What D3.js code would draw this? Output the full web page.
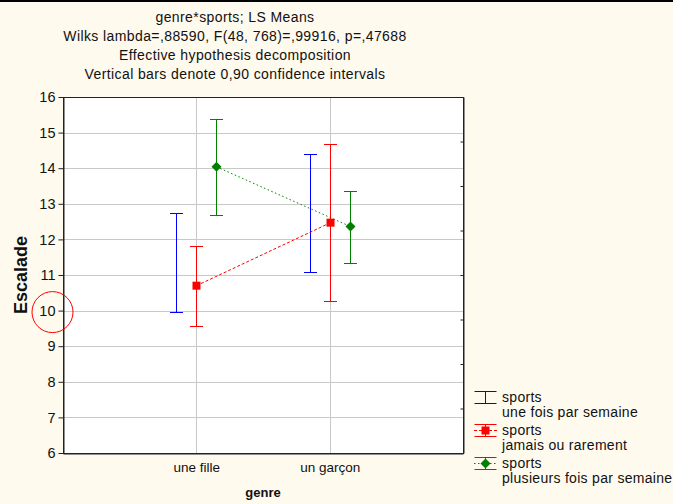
<!DOCTYPE html>
<html>
<head>
<meta charset="utf-8">
<script src="https://cdn.jsdelivr.net/npm/d3@7"></script>
<style>
  body { margin: 0; background: #fffaee; }
  svg { display: block; font-family: "Liberation Sans", Arial, sans-serif; }
  .axis path, .axis line { stroke: #222; }
  .axis text { font-size: 13.5px; fill: #111; }
</style>
</head>
<body>
<div id="chart"></div>
<script>
// data
var genres = ["une fille", "un garçon"];
var seriesNames = ["une fois par semaine", "jamais ou rarement", "plusieurs fois par semaine"];
var seriesColors = ["#0000ff", "#ff0000", "#008000"];

var blueMean = [11.35, 12.75];
var blueLow = [9.95, 11.08];
var blueHigh = [12.74, 14.41];

var redMean = [10.70, 12.47];
var redLow = [9.57, 10.27];
var redHigh = [11.81, 14.68];

var greenMean = [14.04, 12.36];
var greenLow = [12.69, 11.35];
var greenHigh = [15.39, 13.36];

var yTicks = [6, 7, 8, 9, 10, 11, 12, 13, 14, 15, 16];

var titleLines = [
  "genre*sports; LS Means",
  "Wilks lambda=,88590, F(48, 768)=,99916, p=,47688",
  "Effective hypothesis decomposition",
  "Vertical bars denote 0,90 confidence intervals"
];

var props = {
  width: 673,
  height: 504,
  left: 63,
  right: 463,
  top: 97,
  bottom: 453
};

var series = [
  {name: seriesNames[0], color: seriesColors[0], mean: blueMean, low: blueLow, high: blueHigh, marker: null, dash: null, offset: -20},
  {name: seriesNames[1], color: seriesColors[1], mean: redMean, low: redLow, high: redHigh, marker: "square", dash: "3,2", offset: 0},
  {name: seriesNames[2], color: seriesColors[2], mean: greenMean, low: greenLow, high: greenHigh, marker: "diamond", dash: "1.5,2.5", offset: 20}
];

var svg = d3.select("#chart").append("svg")
  .attr("width", props.width)
  .attr("height", props.height);

// top black band
svg.append("rect").attr("x", 0).attr("y", 0).attr("width", props.width).attr("height", 2).attr("fill", "#000");

var x = d3.scaleLinear().domain([0, 3]).range([props.left, props.right]);
var y = d3.scaleLinear().domain([6, 16]).range([props.bottom, props.top]);

// title
svg.append("g").selectAll("text")
  .data(titleLines)
  .enter().append("text")
  .attr("x", 235)
  .attr("y", function(d, i){ return 22 + i * 19; })
  .attr("text-anchor", "middle")
  .style("font-size", "14px")
  .style("letter-spacing", "0.4px")
  .style("fill", "#111")
  .text(function(d){ return d; });

// plot background
svg.append("rect")
  .attr("x", props.left).attr("y", props.top)
  .attr("width", props.right - props.left).attr("height", props.bottom - props.top)
  .attr("fill", "#fff");

// grid
svg.append("g").selectAll("line")
  .data(yTicks.slice(1, -1))
  .enter().append("line")
  .attr("x1", props.left).attr("x2", props.right)
  .attr("y1", function(d){ return Math.round(y(d)) + 0.5; })
  .attr("y2", function(d){ return Math.round(y(d)) + 0.5; })
  .attr("stroke", "#c8c8c8");

svg.append("g").selectAll("line")
  .data([1, 2])
  .enter().append("line")
  .attr("x1", function(d){ return Math.round(x(d)) + 0.5; })
  .attr("x2", function(d){ return Math.round(x(d)) + 0.5; })
  .attr("y1", props.top).attr("y2", props.bottom)
  .attr("stroke", "#c8c8c8");

// axes
svg.append("g")
  .attr("class", "axis")
  .attr("transform", "translate(" + (props.left + 0.5) + ",0)")
  .call(d3.axisLeft(y).tickValues(yTicks).tickSize(5).tickPadding(3).tickSizeOuter(0))
  .selectAll("text").style("font-size", "14.5px");

svg.append("g")
  .attr("class", "axis")
  .attr("transform", "translate(0," + (props.bottom + 0.5) + ")")
  .call(d3.axisBottom(x).tickValues([1, 2]).tickSize(0).tickPadding(9).tickSizeOuter(0)
    .tickFormat(function(d){ return genres[d - 1]; }));

// right axis with small inward ticks
var yRight = d3.scaleLinear().domain([0, 8]).range([props.bottom, props.top]);
svg.append("g")
  .attr("class", "axis")
  .attr("transform", "translate(" + (props.right + 0.5) + ",0)")
  .call(d3.axisRight(yRight).ticks(8).tickSize(-3).tickSizeOuter(0).tickFormat(""));

// frame
svg.append("rect")
  .attr("x", props.left + 0.5).attr("y", props.top + 0.5)
  .attr("width", props.right - props.left).attr("height", props.bottom - props.top)
  .attr("fill", "none").attr("stroke", "#222");

// axis titles
svg.append("text")
  .attr("transform", "translate(26.5,275) rotate(-90)")
  .attr("text-anchor", "middle")
  .style("font-size", "18px").style("font-weight", "bold").style("fill", "#111")
  .text("Escalade");

svg.append("text")
  .attr("x", (props.left + props.right) / 2).attr("y", 497)
  .attr("text-anchor", "middle")
  .style("font-size", "13px").style("font-weight", "bold").style("fill", "#111")
  .text("genre");

function drawMarker(g, type, cx, cy, color){
  if(type == "square"){
    g.append("rect").attr("x", cx - 4).attr("y", cy - 4).attr("width", 8).attr("height", 8).attr("fill", color);
  } else if(type == "diamond"){
    g.append("path")
      .attr("d", "M" + cx + "," + (cy - 5) + "L" + (cx + 5) + "," + cy + "L" + cx + "," + (cy + 5) + "L" + (cx - 5) + "," + cy + "Z")
      .attr("fill", color);
  }
}

function drawBar(g, cx, lo, hi, color, cap){
  g.append("line").attr("x1", cx).attr("x2", cx).attr("y1", lo).attr("y2", hi).attr("stroke", color);
  g.append("line").attr("x1", cx - cap).attr("x2", cx + cap).attr("y1", lo).attr("y2", lo).attr("stroke", color);
  g.append("line").attr("x1", cx - cap).attr("x2", cx + cap).attr("y1", hi).attr("y2", hi).attr("stroke", color);
}

// series
series.forEach(function(s){
  var g = svg.append("g");
  var px = function(i){ return Math.round(x(i + 1)) + s.offset + 0.5; };
  if(s.marker){
    g.append("path")
      .attr("d", d3.line().x(function(d, i){ return px(i); }).y(function(d){ return y(d); })(s.mean))
      .attr("fill", "none")
      .attr("stroke", s.color)
      .attr("stroke-dasharray", s.dash);
  }
  s.mean.forEach(function(m, i){
    drawBar(g, px(i), Math.round(y(s.low[i])) + 0.5, Math.round(y(s.high[i])) + 0.5, s.color, 6.5);
    if(s.marker) drawMarker(g, s.marker, px(i), y(m), s.color);
  });
});

// legend
var legend = svg.append("g").attr("transform", "translate(474,0)");
series.forEach(function(s, i){
  var cy = 397 + i * 33;
  var g = legend.append("g");
  if(s.marker){
    g.append("line").attr("x1", 0).attr("x2", 23).attr("y1", cy + 0.5).attr("y2", cy + 0.5)
      .attr("stroke", s.color).attr("stroke-dasharray", s.dash);
  }
  drawBar(g, 11.5, cy - 5.5, cy + 6.5, s.color, 11);
  if(s.marker) drawMarker(g, s.marker, 11.5, cy + 0.5, s.color);
  g.append("text").attr("x", 28).attr("y", cy + 5).style("font-size", "14px").style("letter-spacing", "0.3px").style("fill", "#111").text("sports");
  g.append("text").attr("x", 28).attr("y", cy + 20).style("font-size", "14px").style("letter-spacing", "0.3px").style("fill", "#111").text(s.name);
});

// red circle annotation round the 10 tick label
svg.append("circle")
  .attr("cx", 52.5).attr("cy", y(10) + 1.5).attr("r", 20.5)
  .attr("fill", "none").attr("stroke", "#ff0000");
</script>
</body>
</html>
